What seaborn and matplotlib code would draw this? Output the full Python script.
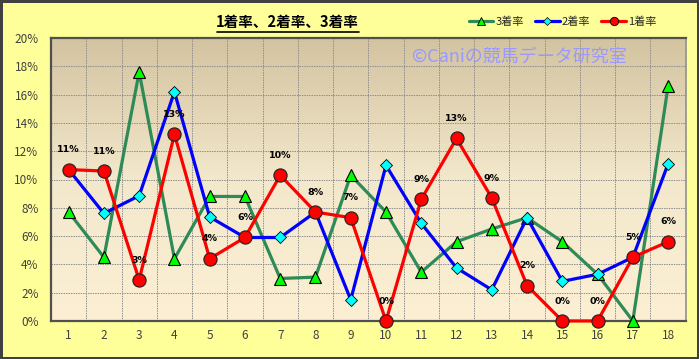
import numpy as np
import pandas as pd
import matplotlib
matplotlib.use("Agg")
import matplotlib.pyplot as plt
from matplotlib.lines import Line2D
from matplotlib.colors import LinearSegmentedColormap
import seaborn as sns

categories = list(range(1, 19))
rate1 = [10.7, 10.6, 2.9, 13.2, 4.4, 5.9, 10.3, 7.7, 7.3, 0.0, 8.6, 12.9, 8.7, 2.5, 0.0, 0.0, 4.5, 5.6]
rate2 = [10.7, 7.6, 8.85, 16.2, 7.35, 5.9, 5.9, 7.7, 1.5, 11.0, 6.9, 3.75, 2.2, 7.3, 2.8, 3.3, 4.5, 11.1]
rate3 = [7.7, 4.5, 17.6, 4.4, 8.8, 8.8, 3.0, 3.1, 10.3, 7.7, 3.45, 5.6, 6.5, 7.3, 5.6, 3.3, 0.0, 16.6]
labels1 = ["11%", "11%", "3%", "13%", "4%", "6%", "10%", "8%", "7%", "0%", "9%", "13%", "9%", "2%", "0%", "0%", "5%", "6%"]
yticks = [0, 2, 4, 6, 8, 10, 12, 14, 16, 18, 20]
title = "1着率、2着率、3着率"
watermark = "©Caniの競馬データ研究室"

sns.set_theme(style="white")
plt.rcParams['font.family'] = ['Noto Sans CJK JP', 'DejaVu Sans']

df = pd.DataFrame({"pos": categories, "r1": rate1, "r2": rate2, "r3": rate3})

fig = plt.figure(figsize=(6.99, 3.59), dpi=100, facecolor="#FFFF99",
                 edgecolor="#404040", linewidth=2.5)
ax = fig.add_axes([0.073, 0.106, 0.908, 0.788])

# gradient background
grad = np.linspace(0, 1, 256).reshape(-1, 1)
cmap = LinearSegmentedColormap.from_list("bg", ["#FCEFD4", "#F3E8CC", "#D3C3A0"])
ax.imshow(grad, extent=[0.5, 18.5, 0, 20], origin="lower", aspect="auto",
          cmap=cmap, zorder=0)

# grid
for xv in np.arange(1.5, 18.5, 1):
    ax.axvline(xv, color="#8E8E8E", lw=0.7, ls=(0, (1.5, 1)), zorder=1)
for yv in yticks[1:-1]:
    ax.axhline(yv, color="#8E8E8E", lw=0.7, ls=(0, (1.5, 1)), zorder=1)

ax.text(0.907, 0.933, watermark, transform=ax.transAxes, ha="right", va="center",
        fontsize=13, color="#9999FF", zorder=2)

sns.lineplot(data=df, x="pos", y="r3", ax=ax, color="#2E8B57", lw=2.3,
             marker="^", markersize=8, markerfacecolor="#00FF00",
             markeredgecolor="#000000", markeredgewidth=0.8, zorder=3)
sns.lineplot(data=df, x="pos", y="r2", ax=ax, color="#0000FF", lw=2.3,
             marker="D", markersize=6, markerfacecolor="#00FFFF",
             markeredgecolor="#000000", markeredgewidth=0.6, zorder=4)
sns.lineplot(data=df, x="pos", y="r1", ax=ax, color="#FF0000", lw=2.3,
             marker="o", markersize=9.5, markerfacecolor="#FF0000",
             markeredgecolor="#202020", markeredgewidth=0.8, zorder=5)

for x, y, t in zip(categories, rate1, labels1):
    ax.annotate(t, (x, y), xytext=(0, 11), textcoords="offset points",
                ha="center", va="bottom", fontsize=6.8, fontweight="bold",
                family="DejaVu Sans", color="#000000", zorder=6)

ax.set_xlim(0.5, 18.5)
ax.set_ylim(0, 20)
ax.set_xticks(categories)
ax.set_xticklabels([str(c) for c in categories])
ax.set_yticks(yticks)
ax.set_yticklabels([f"{v}%" for v in yticks])
ax.tick_params(axis="both", labelsize=8.5, colors="#404040", length=0, pad=6)
ax.tick_params(axis="y", pad=9)
ax.set_xlabel("")
ax.set_ylabel("")
for s in ["left", "bottom", "top"]:
    ax.spines[s].set_color("#505050")
    ax.spines[s].set_linewidth(1.6)
ax.spines["right"].set_color("#909090")
ax.spines["right"].set_linewidth(1.2)
for l in ax.lines:
    l.set_clip_on(False)

fig.text(0.411, 0.938, title, ha="center", va="center", fontsize=10.5,
         fontweight="bold", color="#000000")
fig.add_artist(Line2D([0.311, 0.514], [0.912, 0.912], color="#000000", lw=1.2,
                      transform=fig.transFigure))

handles = [
    Line2D([], [], color="#2E8B57", lw=2.3, marker="^", markersize=6,
           markerfacecolor="#00FF00", markeredgecolor="#000000", markeredgewidth=0.6),
    Line2D([], [], color="#0000FF", lw=2.3, marker="D", markersize=4,
           markerfacecolor="#00FFFF", markeredgecolor="#000000", markeredgewidth=0.5),
    Line2D([], [], color="#FF0000", lw=2.3, marker="o", markersize=6,
           markerfacecolor="#FF0000", markeredgecolor="#000000", markeredgewidth=0.6),
]
fig.legend(handles, ["3着率", "2着率", "1着率"], loc="center", ncol=3,
           bbox_to_anchor=(0.805, 0.94), frameon=False, fontsize=8,
           handlelength=2.2, handletextpad=0.2, columnspacing=1.0)

fig.savefig("out.png", dpi=100, facecolor=fig.get_facecolor(),
            edgecolor=fig.get_edgecolor())
